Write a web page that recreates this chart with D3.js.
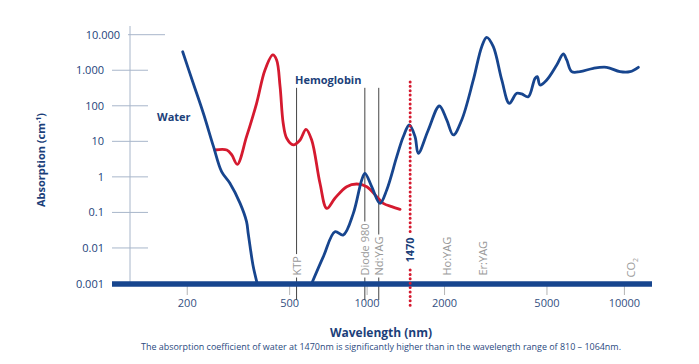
<!DOCTYPE html>
<html><head><meta charset="utf-8">
<script src="https://cdn.jsdelivr.net/npm/d3@7"></script>
<style>
html,body{margin:0;padding:0;background:#fff;}
svg{display:block;font-family:"Open Sans","Noto Sans",sans-serif;}
</style></head>
<body>
<svg id="chart" width="699" height="364"></svg>
<script>
// ---- data (wavelength nm, absorption cm^-1) ----
const waterLeftWl  = [192, 211, 231, 253, 272, 293, 321, 340, 345, 351, 361, 374];
const waterLeftAbs = [3300, 430, 61.5, 7.06, 1.40, 0.66, 0.18, 0.055, 0.026, 0.0109, 0.003, 0.001];
const waterRightWl  = [609, 676, 750, 808, 884, 953, 981, 1042, 1122, 1192, 1304, 1382, 1459, 1536, 1581, 1729, 1909, 2039, 2163, 2332, 2587, 2789, 2917, 3094, 3337, 3570, 3815, 3990, 4232, 4494, 4586, 4699, 4990, 5457, 5788, 5967, 6240, 6722, 7573, 8535, 9614, 10515, 11327];
const waterRightAbs = [0.001, 0.0057, 0.0287, 0.0232, 0.094, 0.82, 1.26, 0.53, 0.18, 0.43, 3.7, 13.5, 28.8, 13.5, 4.6, 20.8, 98.7, 39.9, 15.1, 39.9, 532, 4600, 8460, 4600, 532, 117.6, 225, 215, 180, 594, 659, 385, 532, 1405, 2867, 1943, 911, 911, 1135, 1211, 911, 911, 1211];
const hbWl  = [256, 285, 298, 313, 340, 372, 401, 430, 445, 459, 472, 487, 517, 549, 579, 609, 656, 697, 750, 833, 911, 997, 1090, 1156, 1246, 1343];
const hbAbs = [5.7, 5.7, 4.13, 2.26, 13.5, 117.6, 1017, 2688, 1943, 345, 32.2, 12.2, 7.9, 10.9, 21.8, 10.9, 0.66, 0.13, 0.25, 0.53, 0.63, 0.53, 0.277, 0.18, 0.145, 0.122];
const yTickValues = [0.001, 0.01, 0.1, 1, 10, 100, 1000, 10000];
const yTickLabels = ["0.001", "0.01", "0.1", "1", "10", "100", "1.000", "10.000"];
const xTickValues = [200, 500, 1000, 2000, 5000, 10000];
const xTickLabels = ["200", "500", "1000", "2000", "5000", "10000"];
const laserLines  = [{name:"KTP", wl:532}, {name:"Diode 980", wl:980}, {name:"Nd:YAG", wl:1110}];
const laserLabels = [{name:"Ho:YAG", wl:2050}, {name:"Er:YAG", wl:2820}];
const markerWl = 1470;
const markerTop = 470;
const lineTop = 320;

const svg = d3.select("#chart");
const navy = "#1c3f7a", blue = "#17458e", red = "#d51a2f", grey = "#999";

const x = d3.scaleLog().domain([102, 12800]).range([112, 652]);
const y = d3.scaleLog().domain([0.001, 10000]).range([283.5, 34.7]);

// y axis vertical line
svg.append("line").attr("x1",130).attr("x2",130).attr("y1",26).attr("y2",y(0.001))
  .attr("stroke","#a8b6ca").attr("stroke-width",1);
// y ticks + labels
yTickValues.forEach((v,i)=>{
  if(i===0){
    svg.append("text").attr("x",104).attr("y",y(v)+4).attr("text-anchor","end")
      .attr("font-size",11).attr("fill",navy).text(yTickLabels[i]);
    return;
  }
  const top = i===yTickValues.length-1;
  svg.append("line").attr("x1", top?128:112).attr("x2", top?165:148)
    .attr("y1",y(v)).attr("y2",y(v)).attr("stroke","#a8b6ca").attr("stroke-width",1);
  svg.append("text").attr("x", top?120:104).attr("y",y(v)+4).attr("text-anchor","end")
    .attr("font-size",11).attr("fill",navy).text(yTickLabels[i]);
});
svg.append("text").attr("transform","translate(45,160) rotate(-90)")
  .attr("text-anchor","middle").attr("font-size",11).attr("font-weight","bold")
  .attr("fill",navy).html('Absorption (cm<tspan dy="-4" font-size="7">-1</tspan><tspan dy="4">)</tspan>');

// x ticks below bar
xTickValues.forEach((v,i)=>{
  svg.append("line").attr("x1",x(v)).attr("x2",x(v)).attr("y1",y(0.001)).attr("y2",295)
    .attr("stroke","#b5b5b5").attr("stroke-width",1);
  svg.append("text").attr("x",x(v)).attr("y",307).attr("text-anchor","middle")
    .attr("font-size",11).attr("fill","#34507f").text(xTickLabels[i]);
});

// laser lines with labels
laserLines.forEach(d=>{
  const px = x(d.wl);
  svg.append("line").attr("x1",px).attr("x2",px).attr("y1",y(lineTop)).attr("y2",300)
    .attr("stroke","#444").attr("stroke-width",1);
  const t = svg.append("text").attr("transform",`translate(${px+4},${y(0.001)-8}) rotate(-90)`)
    .attr("font-size",11).attr("fill",grey).text(d.name);
  const len = t.node().getComputedTextLength();
  svg.insert("rect", "text:last-of-type").attr("x",px-5).attr("y",y(0.001)-8-len-2)
    .attr("width",10).attr("height",len+4).attr("fill","#fff");
});
laserLabels.forEach(d=>{
  svg.append("text").attr("transform",`translate(${x(d.wl)+4},${y(0.001)-8}) rotate(-90)`)
    .attr("font-size",11).attr("fill",grey).text(d.name);
});
svg.append("text").attr("transform",`translate(${x(10600)+4},${y(0.001)-6}) rotate(-90)`)
  .attr("font-size",11).attr("fill",grey).html('CO<tspan dy="3" font-size="7">2</tspan>');

// curves
const line = d3.line().x(d=>x(d[0])).y(d=>y(d[1])).curve(d3.curveCatmullRom.alpha(0.5));
const zip = (a,b)=>a.map((v,i)=>[v,b[i]]);
svg.append("path").attr("d",line(zip(hbWl,hbAbs))).attr("fill","none")
  .attr("stroke",red).attr("stroke-width",2.8).attr("stroke-linecap","round");
svg.append("path").attr("d",line(zip(waterLeftWl,waterLeftAbs))).attr("fill","none")
  .attr("stroke",blue).attr("stroke-width",2.8).attr("stroke-linecap","round");
svg.append("path").attr("d",line(zip(waterRightWl,waterRightAbs))).attr("fill","none")
  .attr("stroke",blue).attr("stroke-width",2.8).attr("stroke-linecap","round");

// bottom thick bar
svg.append("line").attr("x1",x(102)).attr("x2",x(12800)).attr("y1",y(0.001)+0.5).attr("y2",y(0.001)+0.5)
  .attr("stroke",blue).attr("stroke-width",5.5);

// 1470 marker
const mx = x(markerWl);
svg.append("line").attr("x1",mx).attr("x2",mx).attr("y1",y(markerTop)).attr("y2",232)
  .attr("stroke",red).attr("stroke-width",3).attr("stroke-linecap","round").attr("stroke-dasharray","0 4.4");
svg.append("line").attr("x1",mx).attr("x2",mx).attr("y1",270).attr("y2",307)
  .attr("stroke",red).attr("stroke-width",3).attr("stroke-linecap","round").attr("stroke-dasharray","0 4.4");
svg.append("text").attr("transform",`translate(${mx+4},${250}) rotate(-90)`)
  .attr("text-anchor","middle").attr("font-size",11).attr("font-weight","bold")
  .attr("fill",navy).text("1470");

// series labels
svg.append("text").attr("x",157).attr("y",121).attr("font-size",11).attr("font-weight","bold")
  .attr("fill",navy).text("Water");
svg.append("text").attr("x",295).attr("y",84).attr("font-size",11).attr("font-weight","bold")
  .attr("fill",navy).text("Hemoglobin");

// axis titles
svg.append("text").attr("x",381).attr("y",337).attr("text-anchor","middle")
  .attr("font-size",12).attr("font-weight","bold").attr("fill",navy).text("Wavelength (nm)");
svg.append("text").attr("x",141).attr("y",350).attr("font-size",8.5).attr("fill","#2a4a80")
  .attr("textLength",480).attr("lengthAdjust","spacingAndGlyphs")
  .text("The absorption coefficient of water at 1470nm is significantly higher than in the wavelength range of 810 – 1064nm.");
</script>
</body></html>
